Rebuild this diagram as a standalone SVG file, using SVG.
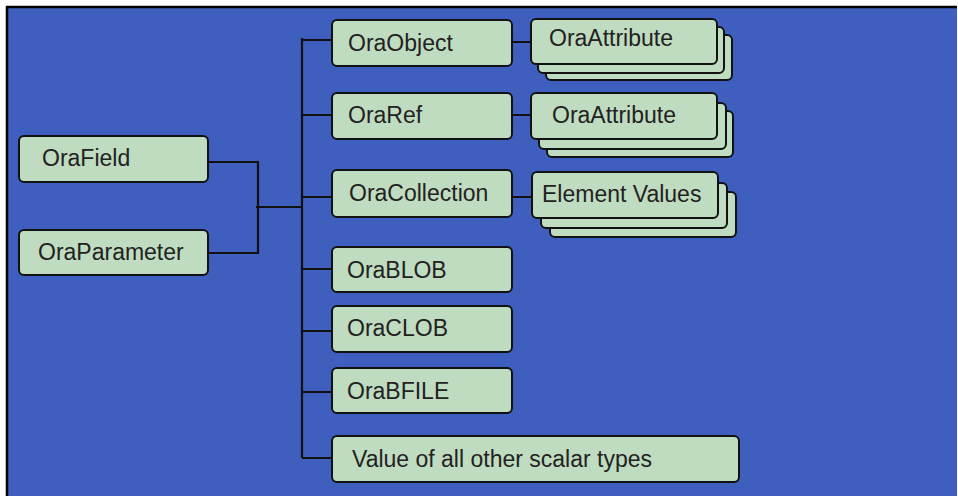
<svg xmlns="http://www.w3.org/2000/svg" width="958" height="496" viewBox="0 0 958 496">
<style>
.bx{fill:#c0dcc0;stroke:#111;stroke-width:2}
.t{font-family:"Liberation Sans",Arial,sans-serif;font-size:23px;fill:#222}
.c{fill:none;stroke:#111;stroke-width:2.2}
</style>
<rect x="0" y="0" width="958" height="496" fill="#ffffff"/>
<rect x="7" y="7" width="950" height="489" fill="#3f5fbf"/>
<path d="M6,7 H957 M7,6 V496" stroke="#000" stroke-width="2.5" fill="none"/>
<g id="connectors">
<path class="c" d="M208,162 H258 V253 H208 M256,207 H302 M302,38 V458"/>
<path class="c" d="M302,40 H332 M302,115 H332 M302,197 H332 M302,269 H332 M302,331 H332 M302,392 H332 M302,458 H332"/>
<path class="c" d="M512,42 H531 M512,115 H531 M512,197 H532"/>
</g>
<g id="OraField"><rect class="bx" x="19" y="136" width="189" height="46" rx="5"/><text class="t" x="42" y="166">OraField</text></g>
<g id="OraParameter"><rect class="bx" x="19" y="230" width="189" height="45" rx="5"/><text class="t" x="38" y="260">OraParameter</text></g>
<g id="OraObject"><rect class="bx" x="332" y="20" width="180" height="46" rx="5"/><text class="t" x="348" y="51">OraObject</text></g>
<g id="OraRef"><rect class="bx" x="332" y="93" width="180" height="46" rx="5"/><text class="t" x="348" y="123">OraRef</text></g>
<g id="OraCollection"><rect class="bx" x="332" y="170" width="180" height="47" rx="5"/><text class="t" x="349" y="201">OraCollection</text></g>
<g id="OraBLOB"><rect class="bx" x="332" y="247" width="180" height="45" rx="5"/><text class="t" x="347" y="278">OraBLOB</text></g>
<g id="OraCLOB"><rect class="bx" x="332" y="306" width="180" height="46" rx="5"/><text class="t" x="347" y="336">OraCLOB</text></g>
<g id="OraBFILE"><rect class="bx" x="332" y="368" width="180" height="45" rx="5"/><text class="t" x="347" y="399">OraBFILE</text></g>
<g id="ScalarValues"><rect class="bx" x="332" y="436" width="407" height="46" rx="5"/><text class="t" x="352" y="467">Value of all other scalar types</text></g>
<g id="OraAttribute1">
<rect class="bx" x="546" y="35" width="186" height="45" rx="5"/>
<rect class="bx" x="538" y="27" width="186" height="46" rx="5"/>
<rect class="bx" x="531" y="19" width="186" height="45" rx="5"/>
<text class="t" x="549" y="46">OraAttribute</text>
</g>
<g id="OraAttribute2">
<rect class="bx" x="547" y="111" width="186" height="46" rx="5"/>
<rect class="bx" x="539" y="103" width="187" height="46" rx="5"/>
<rect class="bx" x="531" y="93" width="186" height="46" rx="5"/>
<text class="t" x="552" y="123">OraAttribute</text>
</g>
<g id="ElementValues">
<rect class="bx" x="550" y="192" width="186" height="45" rx="5"/>
<rect class="bx" x="541" y="183" width="186" height="45" rx="5"/>
<rect class="bx" x="532" y="172" width="186" height="46" rx="5"/>
<text class="t" x="542" y="202">Element Values</text>
</g>
</svg>
